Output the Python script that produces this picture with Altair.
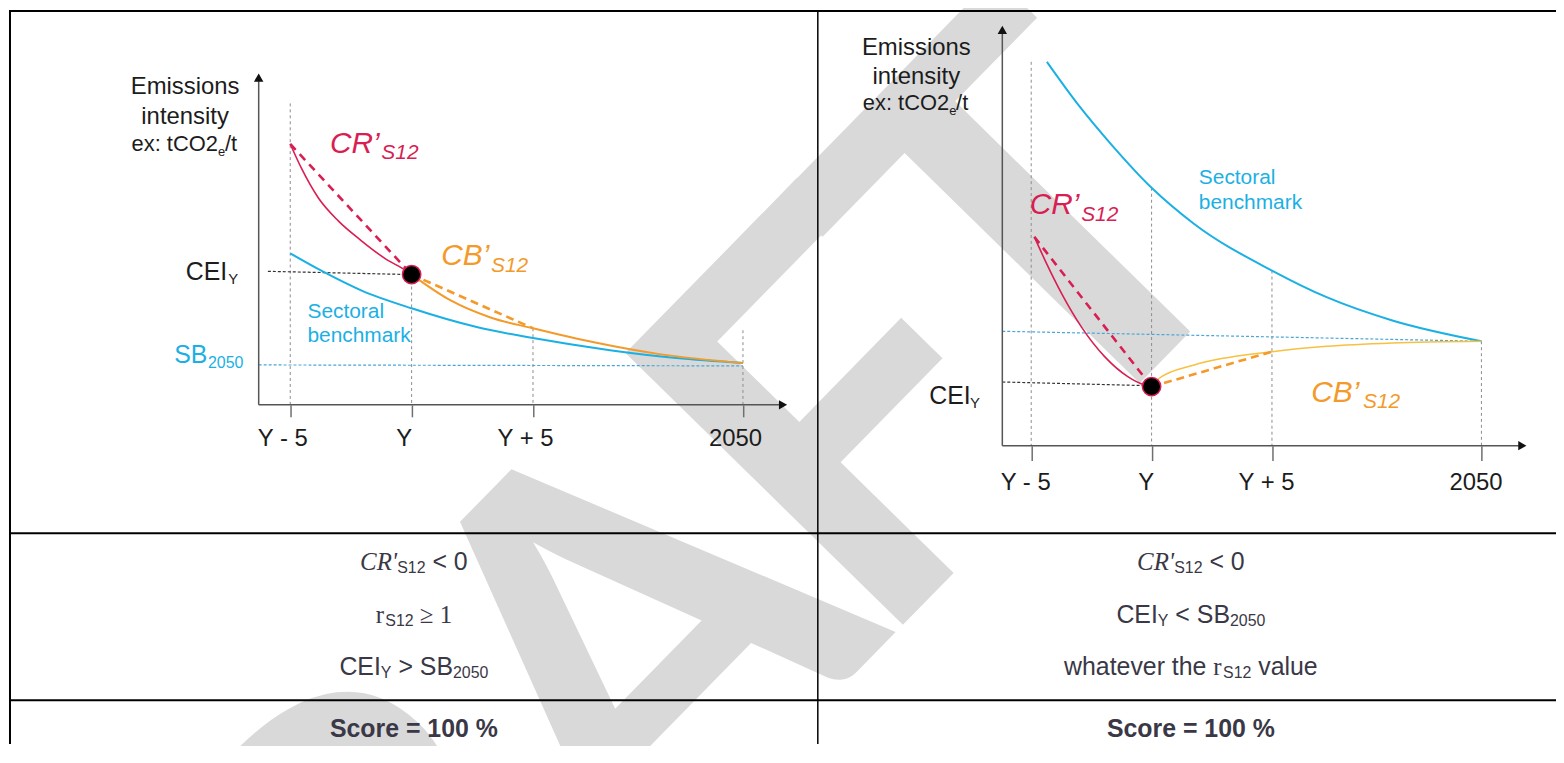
import altair as alt
import pandas as pd

# ---------------- canvas / layout ----------------
W, H = 1556, 738          # svg size (page = svg + 8px margin)
OX, OY = 8, 8

SANS = "Liberation Sans"
SERIF = "Liberation Serif"
WM_FONT = "Lato"

RED = "#d81e52"
ORANGE = "#f39a2a"
YELLOW = "#f8c040"
BLUE = "#1bb0e4"
SBLUE = "#4aa6d6"
INK = "#1c1c1c"
TXT = "#3a3846"
WM = "#d9d9d9"

# ---------------- data: left panel (CEI_Y > SB2050) ----------------
TICK_LABELS = ["Y - 5", "Y", "Y + 5", "2050"]
L_TICK_X = [-5, 0, 5, 13.65]
L_GUIDE_TOP = [9.21, 3.98, 2.34, 2.28]
L_RED_X = [-5, -4.54, -3.84, -3.02, -2.08, -1.09, -0.23, 0]
L_RED_Y = [7.97, 7.23, 6.32, 5.62, 5.02, 4.47, 4.10, 3.98]
L_BLUE_X = [-5, -3.72, -2.08, 0, 2.72, 5, 8.17, 10.9, 13.65]
L_BLUE_Y = [4.63, 4.10, 3.50, 2.95, 2.37, 2.04, 1.67, 1.43, 1.28]
L_ORANGE_X = [0, 1.61, 3.25, 5, 7.51, 10.2, 13.65]
L_ORANGE_Y = [3.98, 3.19, 2.67, 2.34, 1.91, 1.55, 1.28]
L_CEI = 3.98
L_CEI_GUIDE_X = [-5.92, 0]
L_CEI_GUIDE_Y = [4.08, 3.98]
L_SB_Y = [1.22, 1.19]

# ---------------- data: right panel (CEI_Y < SB2050) ----------------
R_TICK_X = [-5, 0, 5, 13.7]
R_GUIDE_TOP = [9.23, 6.20, 4.21, 2.51]
R_RED_X = [-4.87, -4.42, -3.73, -2.91, -1.95, -0.99, -0.30, 0]
R_RED_Y = [5.02, 4.45, 3.65, 2.85, 2.14, 1.66, 1.46, 1.42]
R_BLUE_X = [-4.35, -3.05, -1.67, 0, 1.77, 5, 7.27, 10.0, 13.7]
R_BLUE_Y = [9.23, 8.20, 7.24, 6.20, 5.33, 4.21, 3.57, 3.01, 2.51]
R_ORANGE_X = [0, 0.32, 1.77, 5, 7.27, 10.0, 13.7]
R_ORANGE_Y = [1.42, 1.62, 1.94, 2.26, 2.39, 2.47, 2.51]
R_CEI = 1.42
R_CEI_GUIDE_Y = [1.53, 1.44]
R_SB_Y = [2.75, 2.51]

ONE = pd.DataFrame({"k": [0]})


def dom_x(v_ref, page_px, ppu):
    lo = v_ref - (page_px - OX) / ppu
    return [lo, lo + W / ppu]


def dom_y(v_ref, page_py, ppu):
    s = page_py - OY
    return [v_ref - (H - s) / ppu, v_ref + s / ppu]


def txt(text, x, y, size, color=INK, align="left", font=SANS,
        style="normal", weight="normal", angle=None):
    kw = dict(text=text, align=align, baseline="alphabetic", fontSize=size,
              font=font, fontStyle=style, fontWeight=weight, color=color)
    if angle is not None:
        kw["angle"] = angle
    return alt.Chart(ONE).mark_text(**kw).encode(
        x=alt.value(x - OX), y=alt.value(y - OY))


def rule(x, y, x2=None, y2=None, w=2.0):
    enc = dict(x=alt.value(x), y=alt.value(y))
    if x2 is not None:
        enc["x2"] = alt.value(x2)
    if y2 is not None:
        enc["y2"] = alt.value(y2)
    return alt.Chart(ONE).mark_rule(color="black", strokeWidth=w).encode(**enc)


# ---- approximate font metrics (per 1000 em) to centre composite lines ----
ARIAL = {" ": 278, "<": 584, ">": 584, "0": 556, "1": 556, "2": 556, "5": 556,
         "B": 667, "C": 722, "E": 667, "I": 278, "S": 667, "Y": 667,
         "a": 556, "e": 556, "h": 556, "l": 222, "r": 333, "t": 278, "u": 556,
         "v": 500, "w": 722}
TIMES_I = {" ": 250, "C": 667, "R": 611, "'": 214, "r": 389, "1": 500, "≥": 549}


def tw(s, size, font):
    tab = TIMES_I if font == SERIF else ARIAL
    return sum(tab.get(c, 556) for c in s) * size / 1000.0


def line_of(pieces, cx, base):
    # pieces: (text, size, font, style, dy, gap_em)
    widths = [tw(p[0], p[1], p[2]) + p[5] * p[1] for p in pieces]
    x = cx - sum(widths) / 2
    out = []
    for (t, size, font, style, dy, gap), w in zip(pieces, widths):
        x += gap * size
        out.append(txt(t, x, base + dy, size, TXT, "left", font, style))
        x += w - gap * size
    return out


def panel(P):
    xs = alt.Scale(domain=P["xdom"], nice=False, zero=False)
    ys = alt.Scale(domain=P["ydom"], nice=False, zero=False)
    lab = "[" + ",".join("'%s'" % l for l in TICK_LABELS) + "][indexof([" + \
        ",".join(str(v) for v in P["tick_x"]) + "], datum.value)]"
    ax = alt.Axis(values=P["tick_x"], labelExpr=lab, orient="bottom",
                  offset=-(H - (P["axis_py"] - OY)), domain=False, grid=False,
                  tickSize=P["tick"], tickColor="#6f6f6f", tickWidth=1.5,
                  labelFontSize=24, labelFont=SANS, labelColor=INK,
                  labelPadding=10, labelOffset=P["loff"], labelFlush=False,
                  labelOverlap=False, labelBound=False, title=None, zindex=1)

    def X(f):
        return alt.X(f + ":Q", scale=xs, axis=ax)

    def Y(f):
        return alt.Y(f + ":Q", scale=ys, axis=None)

    L = []
    g = pd.DataFrame({"gx": P["tick_x"], "gt": P["guide_top"], "gb": [0] * 4})
    L.append(alt.Chart(g).mark_rule(color="#8c8c8c", strokeWidth=1, strokeDash=[3, 3])
             .encode(x=X("gx"), y=Y("gt"), y2=alt.Y2("gb")))
    sb = pd.DataFrame({"x": [P["axis_x"], P["tick_x"][3]], "y": P["sb_y"]})
    L.append(alt.Chart(sb).mark_line(color=SBLUE, strokeWidth=1.2, strokeDash=[3, 2])
             .encode(x=X("x"), y=Y("y")))
    ce = pd.DataFrame({"x": P["cei_gx"], "y": P["cei_gy"]})
    L.append(alt.Chart(ce).mark_line(color="#333333", strokeWidth=1.2, strokeDash=[3, 2])
             .encode(x=X("x"), y=Y("y")))
    bl = pd.DataFrame({"x": P["blue_x"], "y": P["blue_y"]})
    L.append(alt.Chart(bl).mark_line(color=BLUE, strokeWidth=2, interpolate="monotone")
             .encode(x=X("x"), y=Y("y")))
    org = pd.DataFrame({"x": P["orange_x"], "y": P["orange_y"]})
    L.append(alt.Chart(org).mark_line(color=P["ocol"], strokeWidth=P["ow"], interpolate="monotone")
             .encode(x=X("x"), y=Y("y")))
    rd = pd.DataFrame({"x": P["red_x"], "y": P["red_y"]})
    L.append(alt.Chart(rd).mark_line(color=RED, strokeWidth=1.6, interpolate="monotone")
             .encode(x=X("x"), y=Y("y")))
    rdd = pd.DataFrame({"x": [P["red_x"][0], 0], "y": [P["red_y"][0], P["cei"]]})
    L.append(alt.Chart(rdd).mark_line(color=RED, strokeWidth=2.6, strokeDash=[8, 6])
             .encode(x=X("x"), y=Y("y")))
    i5 = P["orange_x"].index(5)
    odd = pd.DataFrame({"x": [0, 5], "y": [P["cei"], P["orange_y"][i5]]})
    L.append(alt.Chart(odd).mark_line(color=ORANGE, strokeWidth=2.6, strokeDash=[8, 5])
             .encode(x=X("x"), y=Y("y")))
    xa = pd.DataFrame({"x": [P["axis_x"]], "x2": [P["x_end"]], "y": [0]})
    L.append(alt.Chart(xa).mark_rule(color="#555555", strokeWidth=1.5)
             .encode(x=X("x"), x2=alt.X2("x2"), y=Y("y")))
    ya = pd.DataFrame({"x": [P["axis_x"]], "y": [0], "y2": [P["y_top"]]})
    L.append(alt.Chart(ya).mark_rule(color="#555555", strokeWidth=1.5)
             .encode(x=X("x"), y=Y("y"), y2=alt.Y2("y2")))
    ar = pd.DataFrame({"x": [P["axis_x"], P["x_end"]], "y": [P["y_top"], 0],
                       "shape": ["triangle-up", "triangle-right"]})
    L.append(alt.Chart(ar).mark_point(filled=True, size=90, color="#111111", opacity=1)
             .encode(x=X("x"), y=Y("y"), shape=alt.Shape("shape:N", scale=None)))
    dt = pd.DataFrame({"x": [0], "y": [P["cei"]]})
    L.append(alt.Chart(dt).mark_point(filled=True, size=340, fill="black", stroke=RED,
                                      strokeWidth=1.5, opacity=1)
             .encode(x=X("x"), y=Y("y")))
    return alt.layer(*L)


left = panel(dict(
    xdom=dom_x(-5, 291.7, 24.4), ydom=dom_y(0, 405, 32.9), axis_py=405, tick=12, loff=-8,
    tick_x=L_TICK_X, guide_top=L_GUIDE_TOP, axis_x=-6.3, x_end=15.3, y_top=10.0,
    sb_y=L_SB_Y, cei_gx=L_CEI_GUIDE_X, cei_gy=L_CEI_GUIDE_Y, cei=L_CEI,
    blue_x=L_BLUE_X, blue_y=L_BLUE_Y, orange_x=L_ORANGE_X, orange_y=L_ORANGE_Y,
    red_x=L_RED_X, red_y=L_RED_Y, ocol=ORANGE, ow=2.0))

right = panel(dict(
    xdom=dom_x(-5, 1036.5, 24.2), ydom=dom_y(0, 446, 41.8), axis_py=446, tick=15, loff=-6,
    tick_x=R_TICK_X, guide_top=R_GUIDE_TOP, axis_x=-6.2, x_end=15.4, y_top=10.0,
    sb_y=R_SB_Y, cei_gx=[-6.2, 0], cei_gy=R_CEI_GUIDE_Y, cei=R_CEI,
    blue_x=R_BLUE_X, blue_y=R_BLUE_Y, orange_x=R_ORANGE_X, orange_y=R_ORANGE_Y,
    red_x=R_RED_X, red_y=R_RED_Y, ocol=YELLOW, ow=1.5))

# ---------------- watermark "DRAFT" (rotated, behind everything) ----------------
# only the letters that reach the visible page ("D" lies entirely below it)
WM_LETTERS = ["R", "A", "F", "T"]
WM_S = [-590, -240, 70, 337]          # position along the slanted baseline
wm = [txt(c, 935 + 0.700 * s, 598 - 0.714 * s, 540, WM, "center", WM_FONT,
          weight="bold", angle=314.4) for c, s in zip(WM_LETTERS, WM_S)]

# ---------------- table grid ----------------
grid = [rule(2, 1, x2=W), rule(2, 0, y2=H), rule(814, 0, y2=H, w=1.5),
        rule(2, 526, x2=W), rule(2, 694, x2=W)]

# ---------------- diagram annotations ----------------
ann = []
for cx, b1, b2, b3, ex in [(186, 93, 123, 150, 219), (921, 53, 82, 109, 954)]:
    ann += [txt("Emissions", cx, b1, 24, INK, "center"),
            txt("intensity", cx, b2, 24, INK, "center"),
            txt("ex: tCO2", ex, b3, 22, INK, "right"),
            txt("e", ex, b3 + 5, 13, INK),
            txt("/t", ex + 7, b3, 22, INK)]
ann += [
    txt("CR’", 331.7, 151.7, 30, RED, style="italic"),
    txt("S12", 383.3, 158.3, 21, RED, style="italic"),
    txt("CB’", 443.5, 264.5, 30, ORANGE, style="italic"),
    txt("S12", 493.5, 271.5, 21, ORANGE, style="italic"),
    txt("CEI", 186.7, 279.3, 25, INK),
    txt("Y", 229.5, 283.5, 15, INK),
    txt("Sectoral", 309, 318, 21, BLUE),
    txt("benchmark", 309, 341.7, 21, BLUE),
    txt("SB", 175, 362.7, 25, BLUE),
    txt("2050", 209, 367.5, 16, BLUE),
    txt("CR’", 1035, 213.3, 30, RED, style="italic"),
    txt("S12", 1086.7, 220, 21, RED, style="italic"),
    txt("Sectoral", 1205, 182.7, 21, BLUE),
    txt("benchmark", 1205, 207.7, 21, BLUE),
    txt("CB’", 1318, 401.7, 30, ORANGE, style="italic"),
    txt("S12", 1370, 408.3, 21, ORANGE, style="italic"),
    txt("CEI", 934, 404, 25, INK),
    txt("Y", 975, 408, 15, INK),
]

# ---------------- condition rows ----------------
CL, CR = 416, 1197
cond = []
cr_line = [("CR'", 25, SERIF, "italic", 0, 0), ("S12", 16, SANS, "normal", 3, 0),
           ("< 0", 25, SANS, "normal", 0, 0.278)]
cond += line_of(cr_line, CL, 571)
cond += line_of([("r", 25, SERIF, "normal", 0, 0), ("S12", 16, SANS, "normal", 3, 0),
                 ("≥ 1", 25, SERIF, "normal", 0, 0.25)], CL, 624)
cond += line_of([("CEI", 25, SANS, "normal", 0, 0), ("Y", 16, SANS, "normal", 3, 0),
                 ("> SB", 25, SANS, "normal", 0, 0.278), ("2050", 16, SANS, "normal", 3, 0)],
                CL, 677)
cond += line_of(cr_line, CR, 571)
cond += line_of([("CEI", 25, SANS, "normal", 0, 0), ("Y", 16, SANS, "normal", 3, 0),
                 ("< SB", 25, SANS, "normal", 0, 0.278), ("2050", 16, SANS, "normal", 3, 0)],
                CR, 624)
cond += line_of([("whatever the", 25, SANS, "normal", 0, 0), ("r", 25, SERIF, "normal", 0, 0.278),
                 ("S12", 16, SANS, "normal", 3, 0), ("value", 25, SANS, "normal", 0, 0.278)],
                CR, 677)
cond += [txt("Score = 100 %", CL, 739, 25, TXT, "center", weight="bold"),
         txt("Score = 100 %", CR, 739, 25, TXT, "center", weight="bold")]

chart = alt.layer(*wm, *grid, left, right, *ann, *cond).resolve_scale(
    x="independent", y="independent"
).properties(
    width=W, height=H, padding=0,
    autosize=alt.AutoSizeParams(type="none"),
).configure_view(stroke=None)

chart.save("out.html", embed_options={"renderer": "svg", "actions": False})
